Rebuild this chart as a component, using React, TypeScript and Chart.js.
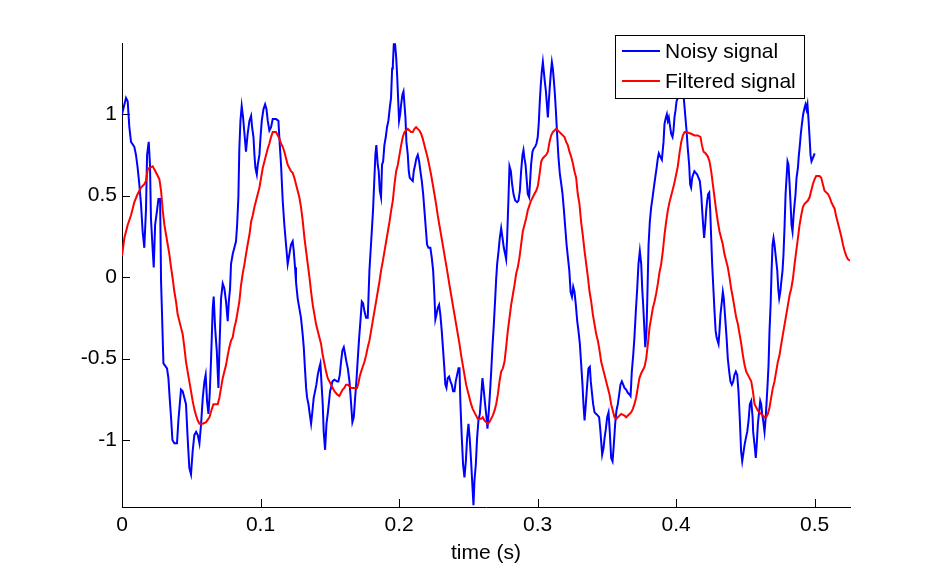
import React, { useEffect, useRef } from "react";
import { Chart, registerables } from "chart.js";

Chart.register(...registerables);

// ---- Data (time in s, amplitude) ----
const noisyTime = [
  0.0, 0.0029, 0.0041, 0.0053, 0.0065, 0.0089, 0.0101, 0.0113, 0.0125, 0.0137, 0.0149, 0.0161, 0.0173, 0.0181, 0.0193, 0.0202,
  0.0209, 0.0222, 0.0229, 0.0239, 0.0253, 0.0263, 0.0275, 0.0282, 0.0289, 0.0299, 0.0325, 0.0335, 0.0344, 0.0354, 0.0364, 0.0378,
  0.0397, 0.0407, 0.0417, 0.0426, 0.0438, 0.045, 0.0462, 0.0474, 0.0486, 0.0498, 0.051, 0.0522, 0.0535, 0.0547, 0.0559, 0.0571,
  0.0583, 0.0595, 0.0604, 0.0614, 0.0624, 0.0633, 0.0643, 0.0655, 0.0662, 0.0672, 0.0684, 0.0696, 0.0703, 0.0715, 0.0727, 0.0739,
  0.0751, 0.0763, 0.0771, 0.078, 0.0787, 0.0799, 0.0811, 0.0823, 0.0831, 0.084, 0.0847, 0.0855, 0.0864, 0.0874, 0.0884, 0.0895,
  0.0907, 0.092, 0.0932, 0.0939, 0.0949, 0.0956, 0.0963, 0.0973, 0.098, 0.0992, 0.1, 0.1009, 0.1021, 0.1033, 0.1043, 0.1052,
  0.1064, 0.1076, 0.1088, 0.11, 0.1112, 0.1129, 0.1139, 0.1148, 0.116, 0.1172, 0.1184, 0.1196, 0.1208, 0.122, 0.1232, 0.124,
  0.1249, 0.1256, 0.1268, 0.128, 0.1292, 0.1304, 0.1312, 0.1322, 0.1329, 0.1336, 0.1346, 0.1355, 0.1365, 0.1375, 0.1384, 0.1394,
  0.1403, 0.1413, 0.1423, 0.1432, 0.1442, 0.1449, 0.1456, 0.1466, 0.1476, 0.1485, 0.1495, 0.1502, 0.1509, 0.1519, 0.1533, 0.1553,
  0.1562, 0.1572, 0.1581, 0.1591, 0.1601, 0.161, 0.162, 0.163, 0.1642, 0.1654, 0.1663, 0.1673, 0.1683, 0.1692, 0.1702, 0.1712,
  0.1721, 0.1731, 0.174, 0.175, 0.1762, 0.1774, 0.1779, 0.1786, 0.1793, 0.1803, 0.1812, 0.1822, 0.1829, 0.1836, 0.1846, 0.1853,
  0.1861, 0.187, 0.1877, 0.1885, 0.1894, 0.1904, 0.1913, 0.1923, 0.1933, 0.1942, 0.195, 0.1955, 0.1962, 0.1971, 0.1979, 0.1986,
  0.1993, 0.2, 0.2008, 0.2015, 0.2024, 0.2032, 0.2039, 0.2046, 0.2053, 0.2063, 0.207, 0.2077, 0.2087, 0.2099, 0.2106, 0.2116,
  0.2125, 0.2135, 0.2145, 0.2154, 0.2164, 0.2174, 0.2183, 0.2193, 0.2202, 0.2212, 0.2226, 0.2236, 0.2246, 0.2255, 0.2262, 0.227,
  0.2279, 0.2289, 0.2298, 0.2308, 0.2318, 0.2327, 0.2334, 0.2342, 0.2351, 0.2361, 0.2371, 0.238, 0.239, 0.24, 0.2409, 0.2419,
  0.2429, 0.2436, 0.2443, 0.2453, 0.2462, 0.2472, 0.2482, 0.2491, 0.2501, 0.251, 0.252, 0.253, 0.2537, 0.2544, 0.2554, 0.2563,
  0.2573, 0.2583, 0.2592, 0.2602, 0.2612, 0.2621, 0.2631, 0.2638, 0.2648, 0.2657, 0.2665, 0.2674, 0.2684, 0.2694, 0.2701, 0.2708,
  0.2718, 0.2727, 0.2737, 0.2747, 0.2756, 0.2766, 0.2773, 0.278, 0.279, 0.2797, 0.2807, 0.2816, 0.2826, 0.2838, 0.2852, 0.2862,
  0.2872, 0.2881, 0.2891, 0.2898, 0.2905, 0.2913, 0.2922, 0.2929, 0.2939, 0.2946, 0.2953, 0.2963, 0.2972, 0.2982, 0.2992, 0.3001,
  0.3008, 0.3016, 0.3023, 0.303, 0.3038, 0.3045, 0.3052, 0.306, 0.3067, 0.3074, 0.3081, 0.3089, 0.3096, 0.3103, 0.311, 0.3118,
  0.3125, 0.3132, 0.3142, 0.3151, 0.3161, 0.3171, 0.318, 0.319, 0.32, 0.3209, 0.3219, 0.3229, 0.3238, 0.3248, 0.3257, 0.3266,
  0.3276, 0.3286, 0.3295, 0.3305, 0.3315, 0.3324, 0.3331, 0.3339, 0.3348, 0.3358, 0.3367, 0.3377, 0.3384, 0.3391, 0.3401, 0.3411,
  0.3423, 0.3435, 0.3444, 0.3452, 0.3459, 0.3466, 0.3476, 0.3483, 0.3493, 0.3502, 0.3512, 0.3521, 0.3531, 0.3541, 0.355, 0.356,
  0.3569, 0.3579, 0.3589, 0.3598, 0.3608, 0.3618, 0.3627, 0.3639, 0.3651, 0.3663, 0.3671, 0.368, 0.369, 0.3699, 0.3709, 0.3719,
  0.3728, 0.3738, 0.3748, 0.3755, 0.3762, 0.3769, 0.3777, 0.3786, 0.3793, 0.3801, 0.381, 0.382, 0.383, 0.3839, 0.3849, 0.3859,
  0.3868, 0.3875, 0.3885, 0.3897, 0.3909, 0.3916, 0.3926, 0.3933, 0.394, 0.3947, 0.3957, 0.3964, 0.3974, 0.3981, 0.3988, 0.3995,
  0.4003, 0.4012, 0.4019, 0.4037, 0.4051, 0.4065, 0.4075, 0.4084, 0.4094, 0.4101, 0.4108, 0.4116, 0.4123, 0.4132, 0.4142, 0.4152,
  0.4161, 0.4171, 0.4181, 0.4188, 0.4195, 0.4202, 0.421, 0.4217, 0.4224, 0.4231, 0.4239, 0.4246, 0.4253, 0.426, 0.427, 0.4277,
  0.4285, 0.4292, 0.4299, 0.4306, 0.4313, 0.432, 0.433, 0.4337, 0.4344, 0.4354, 0.4364, 0.4373, 0.4383, 0.4392, 0.4402, 0.4412,
  0.4421, 0.4431, 0.4441, 0.445, 0.446, 0.4469, 0.4477, 0.4484, 0.4494, 0.4503, 0.4513, 0.4523, 0.4532, 0.4542, 0.4552, 0.4556,
  0.4566, 0.4575, 0.4583, 0.459, 0.46, 0.4607, 0.4614, 0.4621, 0.4628, 0.4638, 0.4645, 0.4652, 0.466, 0.4667, 0.4674, 0.4682,
  0.4689, 0.4696, 0.4703, 0.471, 0.472, 0.473, 0.4737, 0.4744, 0.4752, 0.4759, 0.4768, 0.4775, 0.4783, 0.479, 0.4797, 0.4804,
  0.4811, 0.4819, 0.4826, 0.4833, 0.484, 0.4848, 0.4855, 0.4862, 0.4869, 0.4879, 0.4886, 0.4893, 0.49, 0.4908, 0.4917, 0.4927,
  0.4934, 0.4941, 0.4948, 0.4956, 0.4963, 0.497, 0.4977, 0.4987, 0.5,
];
const noisyValue = [
  1.0, 1.1, 1.08, 0.92, 0.83, 0.8, 0.75, 0.67, 0.57, 0.45, 0.28, 0.18, 0.41, 0.75, 0.83, 0.69,
  0.36, 0.16, 0.06, 0.32, 0.41, 0.48, 0.48, -0.03, -0.23, -0.53, -0.56, -0.62, -0.74, -0.86, -1.0, -1.02,
  -1.02, -0.88, -0.78, -0.69, -0.7, -0.74, -0.78, -0.99, -1.17, -1.21, -1.07, -0.97, -0.95, -0.97, -1.02, -0.9,
  -0.74, -0.64, -0.6, -0.76, -0.84, -0.72, -0.5, -0.19, -0.12, -0.31, -0.45, -0.68, -0.45, -0.13, -0.04, -0.07,
  -0.15, -0.27, -0.15, -0.07, 0.08, 0.14, 0.18, 0.22, 0.32, 0.49, 0.79, 0.96, 1.05, 0.98, 0.88, 0.77,
  0.88, 0.96, 0.99, 0.92, 0.86, 0.75, 0.67, 0.63, 0.69, 0.75, 0.86, 0.96, 1.03, 1.06, 1.03, 0.96,
  0.9, 0.92, 0.97, 0.97, 0.97, 0.96, 0.81, 0.69, 0.47, 0.32, 0.2, 0.08, 0.14, 0.2, 0.22, 0.16,
  0.06, -0.03, -0.13, -0.19, -0.25, -0.35, -0.43, -0.58, -0.68, -0.74, -0.78, -0.84, -0.9, -0.82, -0.74, -0.7,
  -0.66, -0.6, -0.56, -0.53, -0.68, -0.78, -0.95, -1.06, -0.9, -0.84, -0.76, -0.7, -0.68, -0.64, -0.63, -0.64,
  -0.64, -0.6, -0.52, -0.45, -0.43, -0.47, -0.52, -0.56, -0.64, -0.78, -0.89, -0.86, -0.74, -0.64, -0.5, -0.37,
  -0.27, -0.15, -0.16, -0.21, -0.25, -0.25, -0.13, 0.04, 0.14, 0.28, 0.41, 0.61, 0.75, 0.81, 0.69, 0.65,
  0.53, 0.49, 0.69, 0.71, 0.81, 0.86, 0.92, 0.96, 1.04, 1.1, 1.28, 1.3, 1.43, 1.43, 1.35, 1.24,
  1.1, 0.96, 1.0, 1.06, 1.12, 1.14, 1.06, 0.98, 0.83, 0.75, 0.65, 0.61, 0.6, 0.59, 0.65, 0.69,
  0.73, 0.75, 0.71, 0.65, 0.59, 0.51, 0.41, 0.3, 0.2, 0.18, 0.18, 0.12, 0.04, -0.11, -0.26, -0.23,
  -0.19, -0.17, -0.23, -0.33, -0.45, -0.56, -0.66, -0.68, -0.62, -0.61, -0.64, -0.66, -0.7, -0.7, -0.64, -0.6,
  -0.56, -0.56, -0.78, -0.99, -1.15, -1.23, -1.13, -0.99, -0.9, -0.99, -1.13, -1.29, -1.4, -1.25, -1.15, -0.99,
  -0.88, -0.84, -0.74, -0.62, -0.7, -0.78, -0.86, -0.93, -0.82, -0.7, -0.58, -0.43, -0.29, -0.13, -0.01, 0.08,
  0.16, 0.24, 0.3, 0.24, 0.18, 0.14, 0.11, 0.24, 0.49, 0.68, 0.65, 0.57, 0.51, 0.47, 0.46, 0.47,
  0.53, 0.65, 0.75, 0.78, 0.73, 0.69, 0.59, 0.51, 0.49, 0.59, 0.69, 0.77, 0.79, 0.8, 0.82, 0.86,
  0.94, 1.08, 1.18, 1.26, 1.32, 1.26, 1.2, 1.14, 1.06, 0.98, 1.08, 1.18, 1.26, 1.32, 1.28, 1.2,
  1.12, 1.02, 0.86, 0.73, 0.63, 0.57, 0.51, 0.41, 0.3, 0.2, 0.12, 0.04, -0.09, -0.12, -0.06, -0.09,
  -0.17, -0.27, -0.33, -0.41, -0.54, -0.66, -0.78, -0.88, -0.78, -0.66, -0.56, -0.55, -0.64, -0.7, -0.78, -0.83,
  -0.84, -0.85, -0.86, -0.93, -1.01, -1.09, -1.05, -0.99, -0.93, -0.86, -0.83, -0.95, -1.11, -1.13, -1.03, -0.9,
  -0.82, -0.78, -0.72, -0.66, -0.64, -0.66, -0.68, -0.69, -0.71, -0.72, -0.73, -0.58, -0.48, -0.37, -0.21, -0.07,
  0.08, 0.16, 0.08, -0.07, -0.17, -0.29, -0.43, -0.33, -0.09, 0.2, 0.34, 0.43, 0.49, 0.55, 0.61, 0.67,
  0.73, 0.76, 0.74, 0.72, 0.83, 0.94, 0.98, 1.0, 0.96, 0.98, 0.92, 0.88, 0.86, 0.9, 0.98, 1.02,
  1.08, 1.1, 1.15, 1.12, 1.14, 1.0, 0.9, 0.79, 0.69, 0.57, 0.55, 0.61, 0.63, 0.65, 0.64, 0.63,
  0.61, 0.59, 0.51, 0.41, 0.32, 0.24, 0.32, 0.41, 0.47, 0.51, 0.52, 0.41, 0.24, 0.08, -0.09, -0.21,
  -0.33, -0.37, -0.39, -0.41, -0.33, -0.23, -0.15, -0.09, -0.13, -0.25, -0.37, -0.5, -0.58, -0.64, -0.66, -0.64,
  -0.6, -0.58, -0.6, -0.7, -0.88, -1.07, -1.13, -1.09, -1.03, -0.99, -0.95, -0.88, -0.78, -0.76, -0.86, -0.95,
  -1.03, -1.11, -1.01, -0.9, -0.82, -0.76, -0.78, -0.84, -0.88, -0.95, -0.88, -0.78, -0.66, -0.54, -0.33, -0.17,
  0.04, 0.2, 0.24, 0.2, 0.12, 0.04, -0.07, -0.13, -0.09, -0.03, 0.04, 0.14, 0.32, 0.51, 0.61, 0.71,
  0.69, 0.57, 0.45, 0.32, 0.28, 0.38, 0.45, 0.51, 0.61, 0.67, 0.75, 0.81, 0.88, 0.94, 1.0, 1.04,
  1.06, 1.03, 1.06, 0.96, 0.86, 0.75, 0.71, 0.73, 0.76,
];

const filteredTime = [
  0.0, 0.0017, 0.0041, 0.0065, 0.0089, 0.0113, 0.0137, 0.0161, 0.0173, 0.0185, 0.0198, 0.0222, 0.0234, 0.0253, 0.027, 0.0282,
  0.0294, 0.0306, 0.0318, 0.033, 0.0342, 0.0354, 0.0366, 0.0378, 0.039, 0.0402, 0.0414, 0.0426, 0.0438, 0.045, 0.0462, 0.0474,
  0.0486, 0.0498, 0.051, 0.0522, 0.0535, 0.0547, 0.0559, 0.0583, 0.0607, 0.0631, 0.0648, 0.066, 0.0691, 0.0703, 0.0715, 0.0727,
  0.0739, 0.0751, 0.0763, 0.0775, 0.0787, 0.0799, 0.0811, 0.0823, 0.0835, 0.0847, 0.0859, 0.0871, 0.0884, 0.0895, 0.0907, 0.092,
  0.0932, 0.0944, 0.0956, 0.0968, 0.098, 0.0992, 0.1004, 0.1016, 0.1028, 0.104, 0.1052, 0.1064, 0.1076, 0.1088, 0.11, 0.1112,
  0.1124, 0.1136, 0.1148, 0.116, 0.1172, 0.1184, 0.1196, 0.1208, 0.122, 0.1232, 0.1244, 0.1256, 0.1268, 0.128, 0.1292, 0.1304,
  0.1317, 0.1329, 0.1341, 0.1353, 0.1365, 0.1377, 0.1389, 0.1401, 0.1413, 0.1425, 0.1437, 0.1449, 0.1461, 0.1473, 0.1485, 0.1497,
  0.1509, 0.1533, 0.1553, 0.1569, 0.1581, 0.1593, 0.1605, 0.1617, 0.163, 0.1654, 0.1678, 0.1697, 0.1707, 0.1716, 0.1726, 0.1738,
  0.175, 0.1762, 0.1774, 0.1786, 0.1798, 0.181, 0.1822, 0.1834, 0.1846, 0.1858, 0.187, 0.1883, 0.1895, 0.1907, 0.1919, 0.1931,
  0.1943, 0.1955, 0.1967, 0.1979, 0.1991, 0.2003, 0.2015, 0.2027, 0.2039, 0.2051, 0.2063, 0.2075, 0.2087, 0.2099, 0.2111, 0.2123,
  0.2135, 0.2147, 0.2159, 0.2171, 0.2183, 0.2195, 0.2207, 0.2219, 0.2231, 0.2243, 0.2255, 0.2267, 0.2279, 0.2291, 0.2303, 0.2315,
  0.2327, 0.2339, 0.2351, 0.2364, 0.2376, 0.2388, 0.24, 0.2412, 0.2424, 0.2436, 0.2448, 0.246, 0.2472, 0.2484, 0.2496, 0.2508,
  0.252, 0.2532, 0.2544, 0.2556, 0.2568, 0.2592, 0.2604, 0.2616, 0.2628, 0.264, 0.2652, 0.2664, 0.2676, 0.2689, 0.2701, 0.2713,
  0.2725, 0.2737, 0.2749, 0.2761, 0.2773, 0.2785, 0.2797, 0.2809, 0.2821, 0.2833, 0.2845, 0.2857, 0.2869, 0.2881, 0.2893, 0.2905,
  0.2917, 0.2929, 0.2941, 0.2953, 0.2965, 0.2977, 0.299, 0.3002, 0.3014, 0.3026, 0.3038, 0.305, 0.3062, 0.3074, 0.3086, 0.3098,
  0.311, 0.3122, 0.3134, 0.3146, 0.3158, 0.317, 0.3182, 0.3194, 0.3206, 0.3218, 0.323, 0.3242, 0.3254, 0.3266, 0.3278, 0.329,
  0.3302, 0.3314, 0.3326, 0.3339, 0.3351, 0.3363, 0.3375, 0.3387, 0.3399, 0.3411, 0.3423, 0.3435, 0.3447, 0.3459, 0.3471, 0.3483,
  0.3495, 0.3507, 0.3519, 0.3531, 0.3543, 0.3555, 0.3567, 0.3579, 0.3591, 0.3603, 0.3627, 0.3639, 0.3663, 0.3675, 0.3687, 0.3699,
  0.3711, 0.3723, 0.3735, 0.3748, 0.376, 0.3772, 0.3784, 0.3796, 0.3808, 0.382, 0.3832, 0.3844, 0.3856, 0.3868, 0.388, 0.3892,
  0.3904, 0.3916, 0.3928, 0.394, 0.3952, 0.3964, 0.3976, 0.3988, 0.4, 0.4012, 0.4024, 0.4037, 0.4049, 0.4061, 0.4073, 0.4109,
  0.4133, 0.4157, 0.4176, 0.4186, 0.4198, 0.4212, 0.4229, 0.4241, 0.4253, 0.4265, 0.4277, 0.4289, 0.4301, 0.4313, 0.4325, 0.4337,
  0.4349, 0.4361, 0.4373, 0.4385, 0.4397, 0.441, 0.4422, 0.4434, 0.4446, 0.4458, 0.447, 0.4482, 0.4494, 0.4506, 0.4518, 0.453,
  0.4542, 0.4554, 0.4566, 0.4578, 0.459, 0.4602, 0.4614, 0.4626, 0.4638, 0.465, 0.4662, 0.4674, 0.4686, 0.4698, 0.471, 0.4722,
  0.4734, 0.4746, 0.4759, 0.4771, 0.4783, 0.4795, 0.4807, 0.4819, 0.4831, 0.4843, 0.4855, 0.4867, 0.4879, 0.4891, 0.4903, 0.4915,
  0.4927, 0.4939, 0.4951, 0.4963, 0.4975, 0.4987, 0.4999, 0.5011, 0.5035, 0.5047, 0.5059, 0.5071, 0.5096, 0.5108, 0.512, 0.5132,
  0.5144, 0.5156, 0.5168, 0.518, 0.5192, 0.5204, 0.5216, 0.5228, 0.524, 0.5255,
];
const filteredValue = [
  0.13, 0.24, 0.32, 0.38, 0.46, 0.51, 0.55, 0.57, 0.59, 0.66, 0.67, 0.68, 0.66, 0.63, 0.6, 0.53,
  0.41, 0.32, 0.26, 0.2, 0.14, 0.06, -0.01, -0.09, -0.15, -0.23, -0.27, -0.31, -0.35, -0.43, -0.52, -0.58,
  -0.64, -0.7, -0.76, -0.81, -0.85, -0.88, -0.9, -0.9, -0.89, -0.86, -0.81, -0.78, -0.78, -0.74, -0.68, -0.62,
  -0.58, -0.54, -0.48, -0.43, -0.39, -0.37, -0.31, -0.27, -0.21, -0.15, -0.05, 0.02, 0.08, 0.14, 0.2, 0.26,
  0.34, 0.38, 0.43, 0.47, 0.51, 0.55, 0.61, 0.67, 0.71, 0.75, 0.79, 0.82, 0.86, 0.89, 0.89, 0.89,
  0.87, 0.85, 0.82, 0.8, 0.77, 0.73, 0.69, 0.67, 0.65, 0.64, 0.61, 0.57, 0.53, 0.49, 0.43, 0.35,
  0.24, 0.16, 0.08, 0.0, -0.09, -0.17, -0.23, -0.29, -0.33, -0.37, -0.41, -0.48, -0.53, -0.58, -0.62, -0.64,
  -0.66, -0.7, -0.72, -0.73, -0.71, -0.69, -0.68, -0.66, -0.66, -0.68, -0.68, -0.68, -0.65, -0.61, -0.58, -0.55,
  -0.52, -0.48, -0.43, -0.39, -0.33, -0.27, -0.21, -0.15, -0.09, -0.03, 0.04, 0.1, 0.16, 0.22, 0.28, 0.34,
  0.41, 0.47, 0.57, 0.65, 0.69, 0.75, 0.81, 0.86, 0.89, 0.9, 0.91, 0.9, 0.89, 0.89, 0.91, 0.92,
  0.91, 0.9, 0.88, 0.85, 0.81, 0.77, 0.73, 0.68, 0.63, 0.57, 0.51, 0.45, 0.38, 0.32, 0.26, 0.2,
  0.14, 0.08, 0.02, -0.05, -0.11, -0.17, -0.23, -0.29, -0.35, -0.41, -0.48, -0.54, -0.6, -0.66, -0.7, -0.74,
  -0.78, -0.81, -0.83, -0.85, -0.87, -0.87, -0.86, -0.88, -0.89, -0.9, -0.89, -0.87, -0.85, -0.82, -0.78, -0.72,
  -0.64, -0.58, -0.56, -0.52, -0.43, -0.33, -0.25, -0.17, -0.11, -0.05, 0.02, 0.06, 0.12, 0.2, 0.28, 0.32,
  0.36, 0.41, 0.44, 0.47, 0.49, 0.51, 0.53, 0.56, 0.63, 0.71, 0.73, 0.74, 0.75, 0.77, 0.83, 0.87,
  0.89, 0.9, 0.91, 0.9, 0.89, 0.88, 0.87, 0.86, 0.83, 0.81, 0.77, 0.74, 0.7, 0.65, 0.61, 0.51,
  0.45, 0.34, 0.26, 0.16, 0.08, 0.0, -0.09, -0.15, -0.23, -0.29, -0.35, -0.39, -0.45, -0.52, -0.56, -0.6,
  -0.64, -0.68, -0.72, -0.78, -0.82, -0.86, -0.87, -0.86, -0.85, -0.84, -0.85, -0.86, -0.84, -0.83, -0.81, -0.78,
  -0.74, -0.68, -0.62, -0.59, -0.57, -0.55, -0.5, -0.41, -0.31, -0.25, -0.19, -0.15, -0.1, -0.04, 0.03, 0.08,
  0.16, 0.26, 0.34, 0.41, 0.46, 0.5, 0.54, 0.58, 0.63, 0.68, 0.76, 0.83, 0.87, 0.89, 0.89, 0.88,
  0.87, 0.87, 0.86, 0.81, 0.77, 0.76, 0.74, 0.71, 0.65, 0.57, 0.49, 0.41, 0.34, 0.28, 0.24, 0.2,
  0.14, 0.1, 0.06, 0.0, -0.07, -0.13, -0.19, -0.25, -0.29, -0.35, -0.41, -0.48, -0.54, -0.58, -0.6, -0.62,
  -0.64, -0.7, -0.78, -0.8, -0.82, -0.83, -0.84, -0.85, -0.86, -0.86, -0.84, -0.8, -0.74, -0.68, -0.64, -0.58,
  -0.52, -0.48, -0.41, -0.35, -0.29, -0.23, -0.17, -0.11, -0.07, -0.01, 0.08, 0.16, 0.24, 0.32, 0.38, 0.43,
  0.45, 0.46, 0.47, 0.49, 0.53, 0.57, 0.6, 0.62, 0.62, 0.61, 0.57, 0.53, 0.51, 0.49, 0.46, 0.44,
  0.42, 0.37, 0.33, 0.29, 0.25, 0.2, 0.16, 0.13, 0.11, 0.1,
];

const seriesNames = ["Noisy signal", "Filtered signal"];
const seriesColors = ["#0000ff", "#ff0000"];
const xTickValues = [0, 0.1, 0.2, 0.3, 0.4, 0.5];
const xTickLabels = ["0", "0.1", "0.2", "0.3", "0.4", "0.5"];
const yTickValues = [-1, -0.5, 0, 0.5, 1];
const yTickLabels = ["-1", "-0.5", "0", "0.5", "1"];
const xLimits = [0, 0.5255];
const yLimits = [-1.411, 1.437];
const xTitle = "time (s)";

const FONT = "'Liberation Sans', Arial, Helvetica, sans-serif";

export default function App() {
  const ref = useRef<HTMLCanvasElement>(null);

  useEffect(() => {
    const canvas = ref.current;
    if (!canvas) return;

    const insideTicks = {
      id: "insideTicks",
      beforeDatasetsDraw(chart: any) {
        const { ctx, chartArea, scales } = chart;
        ctx.save();
        ctx.strokeStyle = "#000";
        ctx.lineWidth = 1;
        ctx.beginPath();
        for (const v of xTickValues) {
          const px = Math.round(scales.x.getPixelForValue(v)) + 0.5;
          ctx.moveTo(px, chartArea.bottom);
          ctx.lineTo(px, chartArea.bottom - 8);
        }
        for (const v of yTickValues) {
          const py = Math.round(scales.y.getPixelForValue(v)) + 0.5;
          ctx.moveTo(chartArea.left, py);
          ctx.lineTo(chartArea.left + 8, py);
        }
        ctx.stroke();
        ctx.restore();
      },
    };

    const legendBox = {
      id: "legendBox",
      afterDraw(chart: any) {
        const { ctx } = chart;
        const bx = 615.5, by = 35.5, bw = 189, bh = 63;
        ctx.save();
        ctx.fillStyle = "#fff";
        ctx.fillRect(bx, by, bw, bh);
        ctx.strokeStyle = "#000";
        ctx.lineWidth = 1;
        ctx.strokeRect(bx, by, bw, bh);
        ctx.font = `21px ${FONT}`;
        ctx.textBaseline = "middle";
        ctx.textAlign = "left";
        seriesNames.forEach((name, i) => {
          const cy = 51 + i * 30;
          ctx.strokeStyle = seriesColors[i];
          ctx.lineWidth = 2;
          ctx.beginPath();
          ctx.moveTo(622, cy);
          ctx.lineTo(660, cy);
          ctx.stroke();
          ctx.fillStyle = "#000";
          ctx.fillText(name, 665, cy + 1);
        });
        ctx.restore();
      },
    };

    const chart = new Chart(canvas, {
      type: "line",
      data: {
        datasets: [
          {
            label: seriesNames[0],
            data: noisyTime.map((t, i) => ({ x: t, y: noisyValue[i] })),
            borderColor: seriesColors[0],
            backgroundColor: seriesColors[0],
            borderWidth: 2,
            pointRadius: 0,
            tension: 0,
            fill: false,
            order: 1,
          },
          {
            label: seriesNames[1],
            data: filteredTime.map((t, i) => ({ x: t, y: filteredValue[i] })),
            borderColor: seriesColors[1],
            backgroundColor: seriesColors[1],
            borderWidth: 2,
            pointRadius: 0,
            tension: 0,
            fill: false,
            order: 0,
          },
        ],
      },
      options: {
        responsive: false,
        animation: false,
        devicePixelRatio: 1,
        layout: { padding: { left: 0, right: 88, top: 43, bottom: 0 } },
        plugins: { legend: { display: false }, tooltip: { enabled: false } },
        scales: {
          x: {
            type: "linear",
            min: xLimits[0],
            max: xLimits[1],
            afterBuildTicks: (s: any) => {
              s.ticks = xTickValues.map((v) => ({ value: v }));
            },
            afterFit: (s: any) => {
              s.height = 63;
            },
            grid: { display: false, drawTicks: false, tickLength: 0 },
            border: { display: true, color: "#000", width: 1 },
            ticks: {
              autoSkip: false,
              maxRotation: 0,
              padding: 6,
              color: "#000",
              font: { family: FONT, size: 21 },
              callback: (v: any) => {
                const i = xTickValues.indexOf(Number(v));
                return i >= 0 ? xTickLabels[i] : "";
              },
            },
            title: {
              display: true,
              text: xTitle,
              color: "#000",
              font: { family: FONT, size: 21 },
              padding: { top: 0, bottom: 4 },
            },
          },
          y: {
            type: "linear",
            min: yLimits[0],
            max: yLimits[1],
            afterBuildTicks: (s: any) => {
              s.ticks = yTickValues.map((v) => ({ value: v }));
            },
            afterFit: (s: any) => {
              s.width = 122;
            },
            grid: { display: false, drawTicks: false, tickLength: 0 },
            border: { display: true, color: "#000", width: 1 },
            ticks: {
              autoSkip: false,
              padding: 5,
              color: "#000",
              font: { family: FONT, size: 21 },
              callback: (v: any) => {
                const i = yTickValues.indexOf(Number(v));
                return i >= 0 ? yTickLabels[i] : "";
              },
            },
          },
        },
      },
      plugins: [insideTicks, legendBox],
    });

    return () => chart.destroy();
  }, []);

  return (
    <div style={{ position: "absolute", left: 0, top: 0, width: 938, height: 570, background: "#fff" }}>
      <canvas ref={ref} width={938} height={570} style={{ display: "block", width: 938, height: 570 }} />
    </div>
  );
}
